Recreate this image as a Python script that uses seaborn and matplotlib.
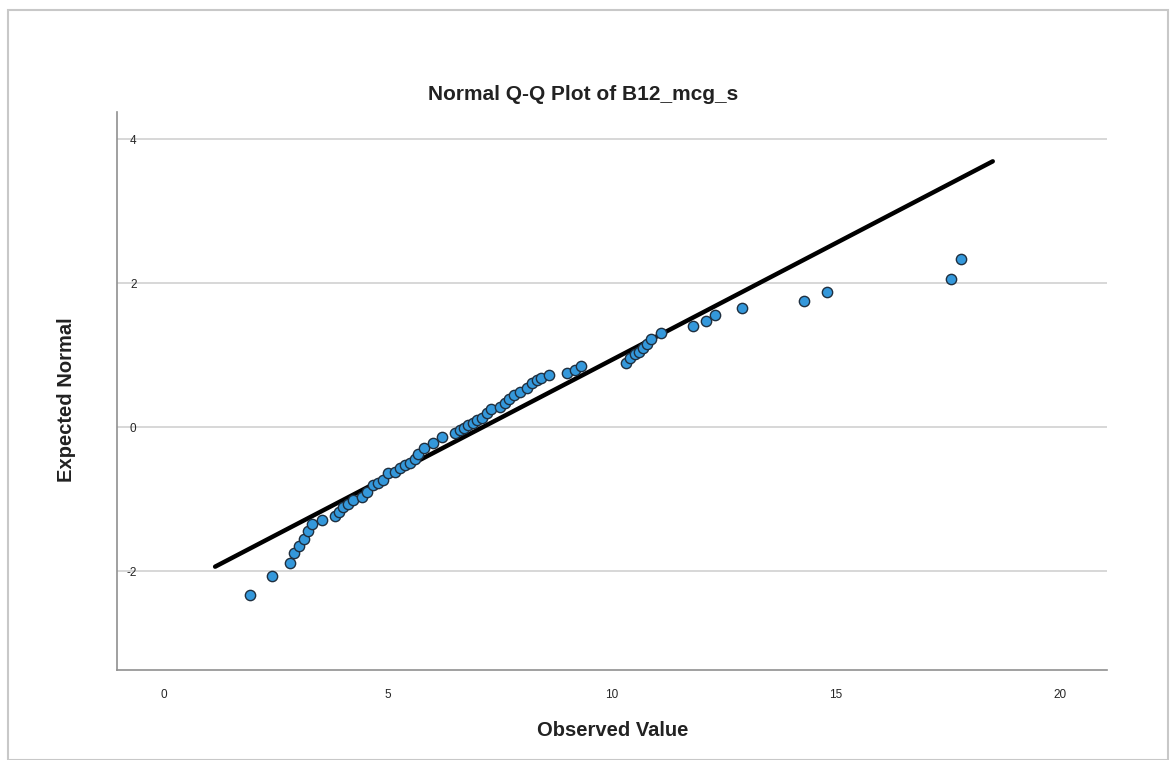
import matplotlib
matplotlib.use("Agg")
import matplotlib.pyplot as plt
import seaborn as sns
import pandas as pd
from matplotlib.patches import Rectangle

observed = [1.92, 2.41, 2.81, 2.90, 3.01, 3.13, 3.21, 3.30, 3.53, 3.82,
            3.91, 4.00, 4.11, 4.22, 4.42, 4.53, 4.67, 4.78, 4.89, 5.00,
            5.16, 5.27, 5.38, 5.49, 5.60, 5.67, 5.80, 6.00, 6.20, 6.50,
            6.61, 6.70, 6.79, 6.90, 6.99, 7.10, 7.21, 7.30, 7.50, 7.61,
            7.70, 7.81, 7.95, 8.10, 8.21, 8.33, 8.42, 8.59, 9.00, 9.17,
            9.31, 10.31, 10.40, 10.51, 10.60, 10.69, 10.78, 10.87, 11.09, 11.81,
            12.10, 12.30, 12.90, 14.29, 14.80, 17.57, 17.79]
expected = [-2.33, -2.07, -1.89, -1.75, -1.65, -1.56, -1.44, -1.35, -1.29, -1.24,
            -1.18, -1.11, -1.07, -1.01, -0.97, -0.90, -0.81, -0.78, -0.74, -0.64,
            -0.62, -0.57, -0.53, -0.50, -0.44, -0.38, -0.29, -0.22, -0.14, -0.08,
            -0.04, -0.01, 0.03, 0.06, 0.10, 0.13, 0.19, 0.25, 0.28, 0.33,
            0.39, 0.44, 0.49, 0.54, 0.61, 0.65, 0.68, 0.72, 0.75, 0.79,
            0.85, 0.89, 0.96, 1.01, 1.04, 1.10, 1.15, 1.22, 1.31, 1.40,
            1.47, 1.56, 1.65, 1.75, 1.88, 2.06, 2.33]

# reference line end points
line_x = [1.14, 18.5]
line_y = [-1.94, 3.69]

x_ticks = [0, 5, 10, 15, 20]
y_ticks = [-2, 0, 2, 4]

df = pd.DataFrame({"Observed": observed, "Expected": expected})
line_df = pd.DataFrame({"x": line_x, "y": line_y})

sns.set_style("white")
plt.rcParams["font.family"] = ["Liberation Sans", "DejaVu Sans"]
plt.rcParams["axes.unicode_minus"] = False

fig = plt.figure(figsize=(11.75, 7.6), dpi=100)
ax = fig.add_axes([117 / 1175, 90 / 760, 990 / 1175, 558 / 760])

# screenshot frame
fig.patches.append(Rectangle((8 / 1175, 0), 1160 / 1175, 750 / 760, transform=fig.transFigure,
                             fill=False, edgecolor="#c8c8c8", linewidth=1.5))

for t in y_ticks:
    ax.axhline(t, color="#d4d4d4", linewidth=1.3, zorder=0)

sns.lineplot(data=line_df, x="x", y="y", color="black", linewidth=3.2, ax=ax, zorder=2)
sns.scatterplot(data=df, x="Observed", y="Expected", s=55, color="#3498db",
                edgecolor="#1f2f3f", linewidth=1.0, ax=ax, zorder=3)

ax.set_xlim(-1.05, 21.05)
ax.set_ylim(-3.375, 4.375)
ax.set_xticks(x_ticks)
ax.set_yticks(y_ticks)
ax.tick_params(axis="both", length=0, labelsize=8.5)
ax.tick_params(axis="x", pad=14)
ax.tick_params(axis="y", pad=-14)

for side in ["top", "right"]:
    ax.spines[side].set_visible(False)
for side in ["left", "bottom"]:
    ax.spines[side].set_color("#909090")
    ax.spines[side].set_linewidth(1.2)

ax.set_xlabel("")
ax.set_ylabel("")
fig.text(613 / 1175, 1 - 730 / 760, "Observed Value", ha="center", va="center",
         fontsize=14.5, fontweight="bold", color="#222222")
fig.text(67 / 1175, 1 - 400 / 760, "Expected Normal", ha="center", va="center",
         rotation=90, fontsize=14.5, fontweight="bold", color="#222222")
fig.text(583 / 1175, 1 - 95 / 760, "Normal Q-Q Plot of B12_mcg_s", ha="center", va="center",
         fontsize=15, fontweight="bold", color="#222222")

fig.savefig("out.png", dpi=100)
